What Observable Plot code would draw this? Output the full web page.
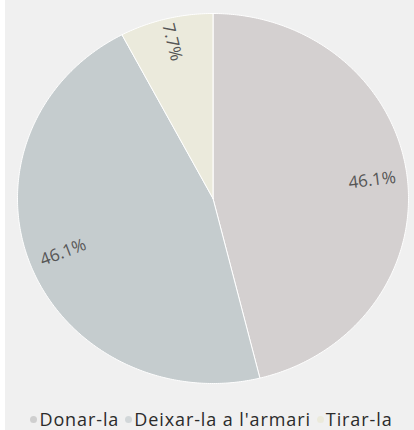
<!DOCTYPE html>
<html>
<head>
<meta charset="utf-8">
<script src="https://cdn.jsdelivr.net/npm/d3@7"></script>
<script src="https://cdn.jsdelivr.net/npm/@observablehq/plot@0.6"></script>
<style>
  html, body { margin: 0; padding: 0; background: #ffffff; }
  #wrap { margin-left: 5px; width: 409px; height: 430px; background: #f0f0f0; overflow: hidden; }
  #legend { display: flex; justify-content: center; align-items: center;
    font-family: "Open Sans", sans-serif; font-size: 18px; line-height: 18px; letter-spacing: 0.9px; color: #2b2b2b;
    padding-top: 15px; margin-left: 4px; }
  .item { display: flex; align-items: center; margin: 0 3px; }
  .sw { width: 7px; height: 7px; border-radius: 50%; margin-right: 2px; }
</style>
</head>
<body>
<div id="wrap"><div id="chart"></div><div id="legend"></div></div>
<script>
const categories = ["Donar-la", "Deixar-la a l'armari", "Tirar-la"];
const values = [46.1, 46.1, 7.7];
const labels = ["46.1%", "46.1%", "7.7%"];
const colors = ["#d4d0d0", "#c5ccce", "#ebeadc"];
const legendColors = ["#cfcfcf", "#d2d7d9", "#ebeadc"];

const data = categories.map((c, i) => ({category: c, value: values[i], label: labels[i]}));
const arcs = d3.pie().sort(null).value(d => d.value)(data);

// polygon outline per slice (unit circle geometry derived from pie angles)
const outline = [];
arcs.forEach(a => {
  const c = a.data.category;
  outline.push({category: c, x: 0, y: 0});
  const n = Math.max(2, Math.ceil((a.endAngle - a.startAngle) / 0.01));
  for (let k = 0; k <= n; k++) {
    const t = a.startAngle + (a.endAngle - a.startAngle) * k / n;
    outline.push({category: c, x: Math.sin(t), y: Math.cos(t)});
  }
  outline.push({category: c, x: 0, y: 0});
});

const labelData = arcs.map(a => {
  const m = (a.startAngle + a.endAngle) / 2;
  const r = a.data.value < 10 ? 0.87 : 0.82;
  let rot = m * 180 / Math.PI - 90;
  if (rot > 90) rot -= 180;
  return {x: r * Math.sin(m), y: r * Math.cos(m), label: a.data.label, rot};
});

const chart = Plot.plot({
  width: 409,
  height: 395,
  marginLeft: 12,
  marginRight: 6,
  marginTop: 13,
  marginBottom: 12,
  style: {background: "transparent", overflow: "visible"},
  x: {domain: [-1, 1], axis: null},
  y: {domain: [-1, 1], axis: null},
  color: {domain: categories, range: colors},
  marks: [
    Plot.line(outline, {x: "x", y: "y", z: "category", fill: "category", stroke: "#ffffff", strokeWidth: 1, curve: "linear"}),
    Plot.text(labelData, {x: "x", y: "y", text: "label", rotate: "rot", fill: "#555555", fontSize: 17,
      fontFamily: "Open Sans, sans-serif", letterSpacing: "0.6px"})
  ]
});
chart.style.display = "block";
document.getElementById("chart").appendChild(chart);

const legend = document.getElementById("legend");
categories.forEach((c, i) => {
  const item = document.createElement("div");
  item.className = "item";
  const sw = document.createElement("span");
  sw.className = "sw";
  sw.style.background = legendColors[i];
  const tx = document.createElement("span");
  tx.textContent = c;
  item.appendChild(sw);
  item.appendChild(tx);
  legend.appendChild(item);
});
</script>
</body>
</html>
